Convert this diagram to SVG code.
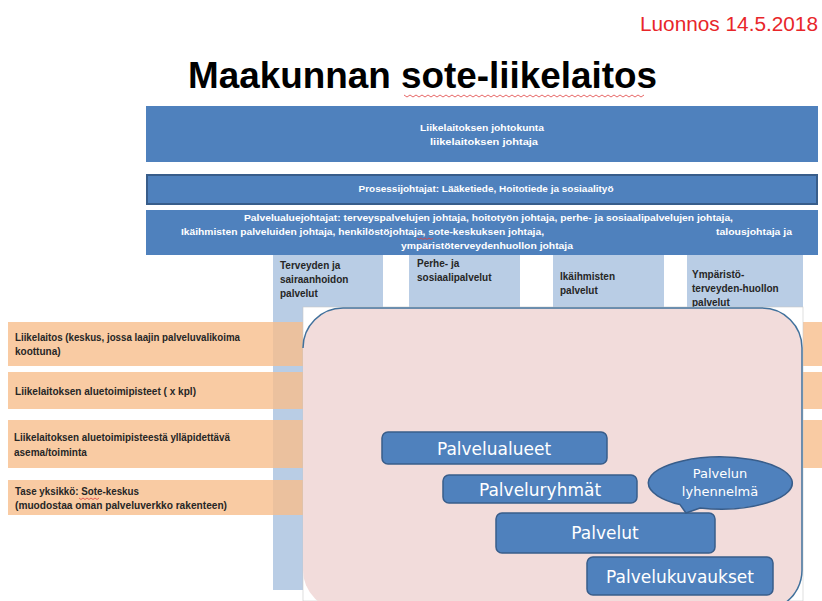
<svg xmlns="http://www.w3.org/2000/svg" width="822" height="601" viewBox="0 0 822 601">
<style>
.hdr{fill:#4f81bd}
.hw{font-family:"Liberation Sans",Arial,sans-serif;font-size:9.5px;fill:#ffffff;font-weight:bold}
.col{fill:#b9cde5}
.ct{font-family:"Liberation Sans",Arial,sans-serif;font-size:10px;font-weight:bold;fill:#262626}
.band{fill:#f8be8c;opacity:0.8}
.bt{font-family:"Liberation Sans",Arial,sans-serif;font-size:10px;font-weight:bold;fill:#262626}
.box{fill:#4f81bd;stroke:#385d8a;stroke-width:1.5}
.inner{font-family:"DejaVu Sans","Liberation Sans",sans-serif;font-size:17px;fill:#ffffff;text-anchor:middle}
.sq{fill:none;stroke:#e04040;stroke-width:0.8}
</style>
<rect width="822" height="601" fill="#ffffff"/>
<text x="818" y="31" text-anchor="end" font-family="Liberation Sans,Arial,sans-serif" font-size="20" fill="#e8262a" textLength="178" lengthAdjust="spacingAndGlyphs">Luonnos 14.5.2018</text>
<text x="188" y="88" font-family="Liberation Sans,Arial,sans-serif" font-size="37" font-weight="bold" fill="#000000" textLength="469" lengthAdjust="spacingAndGlyphs">Maakunnan sote-liikelaitos</text>
<path class="sq" d="M404 95 l3 2 l3 -2 l3 2 l3 -2 l3 2 l3 -2 l3 2 l3 -2 l3 2 l3 -2 l3 2 l3 -2 l3 2 l3 -2 l3 2 l3 -2 l3 2 l3 -2 l3 2 l3 -2 l3 2 l3 -2 l3 2 l3 -2 l3 2 l3 -2 l3 2 l3 -2 l3 2 l3 -2 l3 2 l3 -2 l3 2 l3 -2 l3 2 l3 -2 l3 2 l3 -2 l3 2 l3 -2 l3 2 l3 -2 l3 2 l3 -2 l3 2 l3 -2 l3 2 l3 -2 l3 2 l3 -2 l3 2 l3 -2 l3 2 l3 -2 l3 2 l3 -2 l3 2 l3 -2 l3 2 l3 -2 l3 2 l3 -2 l3 2 l3 -2 l3 2 l3 -2 l3 2 l3 -2 l3 2 l3 -2 l3 2 l3 -2 l3 2 l3 -2 l3 2 l3 -2 l3 2 l3 -2 l3 2 l3 -2"/>

<g id="johtokunta">
<rect class="hdr" x="146" y="106" width="672" height="56"/>
<text class="hw" x="482" y="131" text-anchor="middle" textLength="124" lengthAdjust="spacingAndGlyphs">Liikelaitoksen johtokunta</text>
<text class="hw" x="484" y="145" text-anchor="middle" textLength="108" lengthAdjust="spacingAndGlyphs">liikelaitoksen johtaja</text>
</g>
<g id="prosessijohtajat">
<rect class="hdr" x="147" y="175" width="670" height="29" stroke="#385d8a" stroke-width="2"/>
<text class="hw" x="486" y="192" text-anchor="middle" textLength="255" lengthAdjust="spacingAndGlyphs">Prosessijohtajat: Lääketiede, Hoitotiede ja sosiaalityö</text>
</g>
<g id="palvelualuejohtajat">
<rect class="hdr" x="146" y="210" width="672" height="45"/>
<text class="hw" x="244" y="221" textLength="489" lengthAdjust="spacingAndGlyphs">Palvelualuejohtajat: terveyspalvelujen johtaja, hoitotyön johtaja, perhe- ja sosiaalipalvelujen johtaja,</text>
<text class="hw" x="181" y="235" textLength="363" lengthAdjust="spacingAndGlyphs">Ikäihmisten palveluiden johtaja,  henkilöstöjohtaja, sote-keskuksen johtaja,</text>
<text class="hw" x="716" y="235" textLength="76" lengthAdjust="spacingAndGlyphs">talousjohtaja ja</text>
<text class="hw" x="401" y="249" textLength="172" lengthAdjust="spacingAndGlyphs">ympäristöterveydenhuollon johtaja</text>
<path class="sq" d="M417 238 l2 1.5 l2 -1.5 l2 1.5 l2 -1.5 l2 1.5 l2 -1.5 l2 1.5 l2 -1.5"/>
</g>

<g id="col-terveys">
<rect class="col" x="273" y="255" width="110" height="335"/>
<text class="ct" x="280" y="269">Terveyden ja</text>
<text class="ct" x="280" y="283">sairaanhoidon</text>
<text class="ct" x="280" y="297">palvelut</text>
</g>
<g id="col-perhe">
<rect class="col" x="409" y="255" width="111" height="54"/>
<text class="ct" x="417" y="267">Perhe- ja</text>
<text class="ct" x="417" y="281">sosiaalipalvelut</text>
</g>
<g id="col-ikaihmiset">
<rect class="col" x="553" y="255" width="111" height="54"/>
<text class="ct" x="560" y="280">Ikäihmisten</text>
<text class="ct" x="560" y="294">palvelut</text>
</g>
<g id="col-ymparisto">
<rect class="col" x="687" y="255" width="116" height="54"/>
<text class="ct" x="692" y="278">Ympäristö-</text>
<text class="ct" x="692" y="292">terveyden-huollon</text>
<text class="ct" x="692" y="306">palvelut</text>
</g>

<g id="band-liikelaitos">
<rect class="band" x="8" y="322" width="814" height="44"/>
<text class="bt" x="15" y="341" textLength="225" lengthAdjust="spacingAndGlyphs">Liikelaitos (keskus, jossa laajin palveluvalikoima</text>
<text class="bt" x="15" y="355">koottuna)</text>
</g>
<g id="band-aluetoimipisteet">
<rect class="band" x="8" y="372" width="814" height="37"/>
<text class="bt" x="15" y="395" textLength="181" lengthAdjust="spacingAndGlyphs">Liikelaitoksen aluetoimipisteet ( x kpl)</text>
</g>
<g id="band-asema">
<rect class="band" x="8" y="420" width="814" height="48"/>
<text class="bt" x="14" y="441" textLength="216" lengthAdjust="spacingAndGlyphs">Liikelaitoksen aluetoimipisteestä ylläpidettävä</text>
<text class="bt" x="14" y="456">asema/toiminta</text>
</g>
<g id="band-tase">
<rect class="band" x="8" y="480" width="295" height="35"/>
<text class="bt" x="15" y="495" textLength="124" lengthAdjust="spacingAndGlyphs">Tase yksikkö: Sote-keskus</text>
<text class="bt" x="15" y="509" textLength="212" lengthAdjust="spacingAndGlyphs">(muodostaa oman palveluverkko rakenteen)</text>
<path class="sq" d="M79 498 l2 1.5 l2 -1.5 l2 1.5 l2 -1.5 l2 1.5 l2 -1.5 l2 1.5 l2 -1.5 l2 1.5 l2 -1.5"/>
</g>

<g id="palvelualue-kentta">
<rect x="303" y="307" width="500" height="294" fill="#ffffff" stroke="#c8c8c8" stroke-width="0.6"/>
<rect x="303" y="308" width="499" height="302" rx="40" ry="40" fill="#f2dcdb"/>
<path d="M303 348 A40 40 0 0 1 343 308 L762 308 A40 40 0 0 1 802 348 L802 570 A40 40 0 0 1 785 603" fill="none" stroke="#41719c" stroke-width="1.5"/>
</g>

<g id="palvelualueet">
<rect class="box" x="382" y="432" width="225" height="32" rx="6"/>
<text class="inner" x="494" y="455">Palvelualueet</text>
</g>
<g id="palveluryhmat">
<rect class="box" x="443" y="475" width="194" height="28" rx="6"/>
<text class="inner" x="540" y="496">Palveluryhmät</text>
</g>
<g id="palvelut">
<rect class="box" x="496" y="513" width="219" height="40" rx="6"/>
<text class="inner" x="605" y="539">Palvelut</text>
</g>
<g id="palvelukuvaukset">
<rect class="box" x="587" y="557" width="186" height="38" rx="6"/>
<text class="inner" x="680" y="583">Palvelukuvaukset</text>
</g>
<g id="palvelun-lyhennelma">
<path class="box" d="M680 504.6 L686 513 L700 508 A72 26 0 1 0 680 504.6 Z"/>
<text x="720" y="478" font-family="DejaVu Sans,Liberation Sans,sans-serif" font-size="13" fill="#ffffff" text-anchor="middle">Palvelun</text>
<text x="720" y="496" font-family="DejaVu Sans,Liberation Sans,sans-serif" font-size="13" fill="#ffffff" text-anchor="middle">lyhennelmä</text>
</g>
<g id="connectors"></g>
</svg>
